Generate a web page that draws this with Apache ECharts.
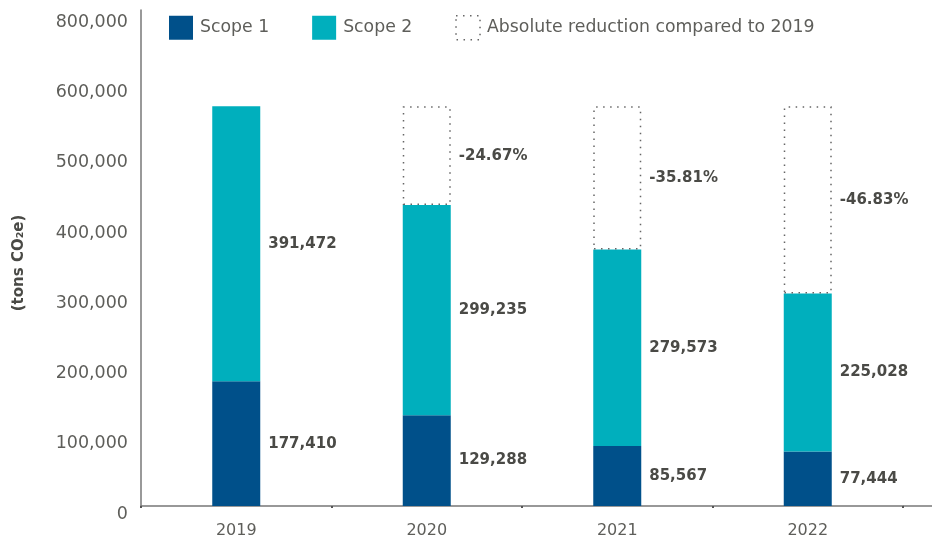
<!DOCTYPE html>
<html>
<head>
<meta charset="utf-8">
<script src="https://cdn.jsdelivr.net/npm/echarts@6/dist/echarts.min.js"></script>
<style>
    html, body { margin: 0; padding: 0; background: #fff; }
    #main { width: 932px; height: 541px; }
</style>
</head>
<body>
<div id="main"></div>
<script>
var years = ['2019', '2020', '2021', '2022'];
var scope1 = [177410, 129288, 85567, 77444];
var scope2 = [391472, 299235, 279573, 225028];
var reduction = [null, 140359, 203742, 266410];
var reductionLabels = ['', '-24.67%', '-35.81%', '-46.83%'];
// tick labels as printed on the original (top one reads 800,000)
var tickValues = [0, 100000, 200000, 300000, 400000, 500000, 600000, 700000];
var tickLabels = ['0', '100,000', '200,000', '300,000', '400,000', '500,000', '600,000', '800,000'];

var textColor = '#5e5e5a';
var valueColor = '#4a4a46';
var font = '"DejaVu Sans", sans-serif';
var dotted = [1.5, 5.5];

function fmt(v) {
    return v.toLocaleString('en-US');
}

var chart = echarts.init(document.getElementById('main'));

var labelStyle = {
    show: true,
    position: 'right',
    distance: 8,
    color: valueColor,
    fontFamily: font,
    fontWeight: 'bold',
    fontSize: 15
};

chart.setOption({
    animation: false,
    backgroundColor: '#fff',
    grid: { left: 141, right: 29, top: 10, bottom: 35, outerBoundsMode: 'none', containLabel: false },
    legend: {
        left: 164,
        top: 10,
        itemWidth: 24,
        itemHeight: 24,
        itemGap: 43,
        icon: 'rect',
        textStyle: {
            color: textColor,
            fontFamily: font,
            fontSize: 17.3,
            padding: [0, 0, 0, 2]
        },
        data: [
            { name: 'Scope 1' },
            { name: 'Scope 2' },
            {
                name: 'Absolute reduction compared to 2019',
                itemStyle: {
                    color: 'rgba(255,255,255,0)',
                    borderColor: '#666',
                    borderWidth: 1.5,
                    borderType: dotted
                }
            }
        ]
    },
    xAxis: {
        type: 'category',
        data: years,
        axisLine: { lineStyle: { color: '#777', width: 1.5 } },
        axisTick: { show: true, length: 2, lineStyle: { color: '#555', width: 2 } },
        axisLabel: {
            color: textColor,
            fontFamily: font,
            fontSize: 16,
            margin: 17
        }
    },
    yAxis: {
        type: 'value',
        min: 0,
        max: 706000,
        interval: 100000,
        name: '(tons CO\u2082e)',
        nameLocation: 'middle',
        nameRotate: 90,
        nameGap: 114,
        nameTextStyle: {
            color: valueColor,
            fontFamily: font,
            fontWeight: 'bold',
            fontSize: 15,
            padding: [0, 10, 0, 0]
        },
        splitLine: { show: false },
        axisTick: { show: false },
        axisLine: { show: true, lineStyle: { color: '#777', width: 1.5 } },
        axisLabel: {
            color: textColor,
            fontFamily: font,
            fontSize: 17.5,
            margin: 13,
            verticalAlign: 'top',
            lineHeight: 16,
            formatter: function (v) {
                var i = tickValues.indexOf(v);
                return i >= 0 ? tickLabels[i] : '';
            }
        }
    },
    graphic: [{
        type: 'line',
        shape: { x1: 903, y1: 506, x2: 932, y2: 506 },
        style: { stroke: '#777', lineWidth: 1.5 }
    }],
    series: [
        {
            name: 'Scope 1',
            type: 'bar',
            stack: 'total',
            barWidth: 48,
            data: scope1,
            itemStyle: { color: '#00508a' },
            label: Object.assign({}, labelStyle, {
                formatter: function (p) { return fmt(p.value); }
            })
        },
        {
            name: 'Scope 2',
            type: 'bar',
            stack: 'total',
            barWidth: 48,
            data: scope2,
            itemStyle: { color: '#00afbd' },
            label: Object.assign({}, labelStyle, {
                formatter: function (p) { return fmt(p.value); }
            })
        },
        {
            name: 'Absolute reduction compared to 2019',
            type: 'bar',
            stack: 'total',
            barWidth: 48,
            data: reduction,
            itemStyle: {
                color: 'rgba(255,255,255,0)',
                borderColor: '#666',
                borderWidth: 1.5,
                borderType: dotted
            },
            label: Object.assign({}, labelStyle, {
                formatter: function (p) { return reductionLabels[p.dataIndex]; }
            })
        }
    ]
});
</script>
</body>
</html>
